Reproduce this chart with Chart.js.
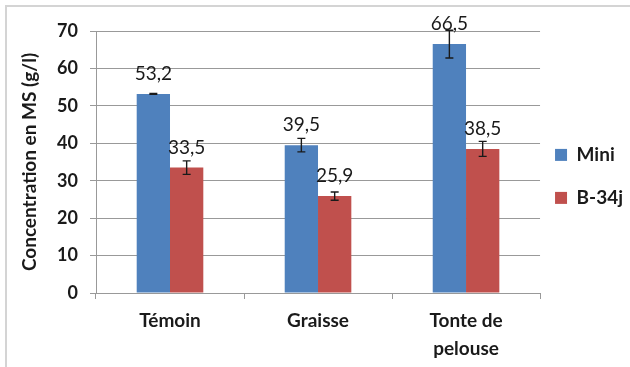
<!DOCTYPE html>
<html>
<head>
<meta charset="utf-8">
<script src="https://cdn.jsdelivr.net/npm/chart.js@4/dist/chart.umd.min.js"></script>
<style>
  body { margin: 0; background: #fff; }
  #wrap { position: relative; width: 630px; height: 367px; }
  #frame { position: absolute; left: 5px; top: 5px; width: 640px; height: 380px;
           border-left: 2px solid #d4d4d4; border-top: 2px solid #d4d4d4; }
  canvas { position: absolute; left: 0; top: 0; }
</style>
</head>
<body>
<div id="wrap">
  <div id="frame"></div>
  <canvas id="chart" width="630" height="367"></canvas>
</div>
<script>
// data
const categories = ['Témoin', 'Graisse', ['Tonte de', 'pelouse']];
const miniValues = [53.2, 39.5, 66.5];
const miniErrors = [0.1, 1.8, 3.7];
const b34Values = [33.5, 25.9, 38.5];
const b34Errors = [1.8, 1.1, 2.0];
const seriesNames = ['Mini', 'B-34j'];

const FONT = 'Lato, "Open Sans", sans-serif';

// error bars + value labels drawn over the bars
const errorBarsAndLabels = {
  id: 'errorBarsAndLabels',
  afterDatasetsDraw(chart) {
    const ctx = chart.ctx;
    const yScale = chart.scales.y;
    chart.data.datasets.forEach((ds, i) => {
      const meta = chart.getDatasetMeta(i);
      meta.data.forEach((bar, j) => {
        const v = ds.data[j];
        const e = ds.errors[j];
        const yTop = yScale.getPixelForValue(v + e);
        const yBot = yScale.getPixelForValue(v - e);
        ctx.save();
        ctx.strokeStyle = '#1a1a1a';
        ctx.lineWidth = 1.4;
        ctx.beginPath();
        ctx.moveTo(bar.x, yTop); ctx.lineTo(bar.x, yBot);
        ctx.moveTo(bar.x - 4, yTop); ctx.lineTo(bar.x + 4, yTop);
        ctx.moveTo(bar.x - 4, yBot); ctx.lineTo(bar.x + 4, yBot);
        ctx.stroke();
        ctx.fillStyle = '#1a1a1a';
        ctx.font = '19px ' + FONT;
        ctx.textAlign = 'center';
        ctx.textBaseline = 'middle';
        ctx.fillText(String(v).replace('.', ','), bar.x, bar.y - 20);
        ctx.restore();
      });
    });
  }
};

// pull the legend a little closer to the plot, like the original
const legendNudge = {
  id: 'legendNudge',
  afterLayout(chart) {
    const lg = chart.legend;
    lg.left = chart.chartArea.right - 9;
    lg.right = lg.left + lg.width;
  }
};

new Chart(document.getElementById('chart'), {
  type: 'bar',
  data: {
    labels: categories,
    datasets: [
      { label: seriesNames[0], data: miniValues, errors: miniErrors,
        backgroundColor: '#4f81bd', barPercentage: 1.0, categoryPercentage: 0.45 },
      { label: seriesNames[1], data: b34Values, errors: b34Errors,
        backgroundColor: '#c0504d', barPercentage: 1.0, categoryPercentage: 0.45 }
    ]
  },
  options: {
    responsive: false,
    animation: false,
    layout: { padding: { left: 14, top: 31, right: -12, bottom: 0 } },
    plugins: {
      tooltip: { enabled: false },
      legend: {
        position: 'right',
        align: 'start',
        title: { display: true, text: '', font: { size: 12 }, padding: { top: 76, bottom: 0 } },
        labels: {
          boxWidth: 12, boxHeight: 12, padding: 24,
          color: '#1a1a1a',
          font: { family: FONT, size: 19, weight: 'bold' }
        }
      }
    },
    scales: {
      x: {
        afterFit(scale) { scale.height = 74; },
        grid: { display: true, drawOnChartArea: false, offset: true, tickLength: 6, color: '#999' },
        border: { color: '#999' },
        ticks: { color: '#1a1a1a', padding: 8, font: { family: FONT, size: 19, weight: 'bold', lineHeight: 1.47 } }
      },
      y: {
        min: 0, max: 70,
        afterFit(scale) { scale.width = 82; },
        ticks: { stepSize: 10, color: '#1a1a1a', padding: 12, font: { family: FONT, size: 18, weight: 'bold' } },
        grid: { color: '#999', tickLength: 6 },
        border: { color: '#999' },
        title: {
          display: true, text: 'Concentration en MS (g/l)', color: '#1a1a1a',
          font: { family: FONT, size: 19, weight: 'bold' }
        }
      }
    }
  },
  plugins: [errorBarsAndLabels, legendNudge]
});
</script>
</body>
</html>
